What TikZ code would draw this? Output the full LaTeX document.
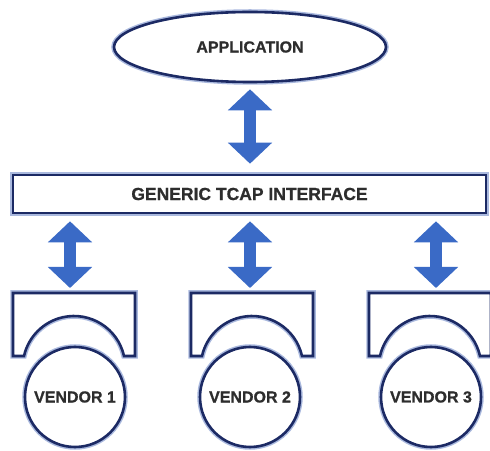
\documentclass[tikz,border=0pt]{standalone}
\usepackage{fontspec}
\setsansfont{Liberation Sans}
\newfontfamily\heavyfont[FakeBold=0.8]{Liberation Sans Bold}
\usetikzlibrary{arrows.meta}
\usetikzlibrary{shapes}
\definecolor{navy}{RGB}{28,42,100}
\definecolor{halo}{RGB}{170,185,222}
\definecolor{arrowblue}{RGB}{58,106,198}
\definecolor{ink}{RGB}{45,45,45}

\begin{document}
\begin{tikzpicture}[x = 1pt, y = 1pt, font=\sffamily\bfseries]
	\tikzstyle{outlineStyle} = [draw = navy, line width = 2.6pt, fill = white, preaction = {draw = halo, line width = 5.5pt}]
	\tikzstyle{labelStyle} = [text = ink, inner sep = 0pt, font = \heavyfont\fontsize{16}{16}\selectfont]
	\tikzstyle{vendorStyle} = [outlineStyle, labelStyle, shape = circle, minimum size = 100pt]
	\tikzstyle{linkStyle} = [arrowblue, line width = 12pt, {Triangle[length = 21pt, width = 43pt]}-{Triangle[length = 21pt, width = 43pt]}]
	\useasboundingbox (0, 0) rectangle (490, 450);
	\node[outlineStyle, labelStyle, shape = ellipse, minimum width = 272pt, minimum height = 70pt] (app) at (250, 403) {APPLICATION};
	\node[outlineStyle, labelStyle, shape = rectangle, minimum width = 473pt, minimum height = 38pt, font = \heavyfont\fontsize{17.5}{17.5}\selectfont] (tcap) at (249.5, 256) {GENERIC TCAP INTERFACE};
	\foreach \cx/\ax [count = \i] in {74/70, 252/250, 430/436} {
		\draw[outlineStyle] (\cx - 61, 157) -- (\cx + 61, 157) -- (\cx + 61, 94) -- (\cx + 50, 94)
			arc[start angle = 12.7, end angle = 167.3, radius = 51.25] -- (\cx - 61, 94) -- cycle;
		\coordinate (s\i) at (\ax, 157);
	}
	\node[vendorStyle] (v1) at (75, 53) {VENDOR 1};
	\node[vendorStyle] (v2) at (250, 53) {VENDOR 2};
	\node[vendorStyle] (v3) at (431, 53) {VENDOR 3};
	\draw[linkStyle, shorten <= 6pt, shorten >= 10pt] (app.south) -- (app.south |- tcap.north);
	\draw[linkStyle, shorten <= 7pt, shorten >= 5pt] (tcap.south -| s1) -- (s1);
	\draw[linkStyle, shorten <= 7pt, shorten >= 5pt] (tcap.south -| s2) -- (s2);
	\draw[linkStyle, shorten <= 7pt, shorten >= 5pt] (tcap.south -| s3) -- (s3);
\end{tikzpicture}
\end{document}
